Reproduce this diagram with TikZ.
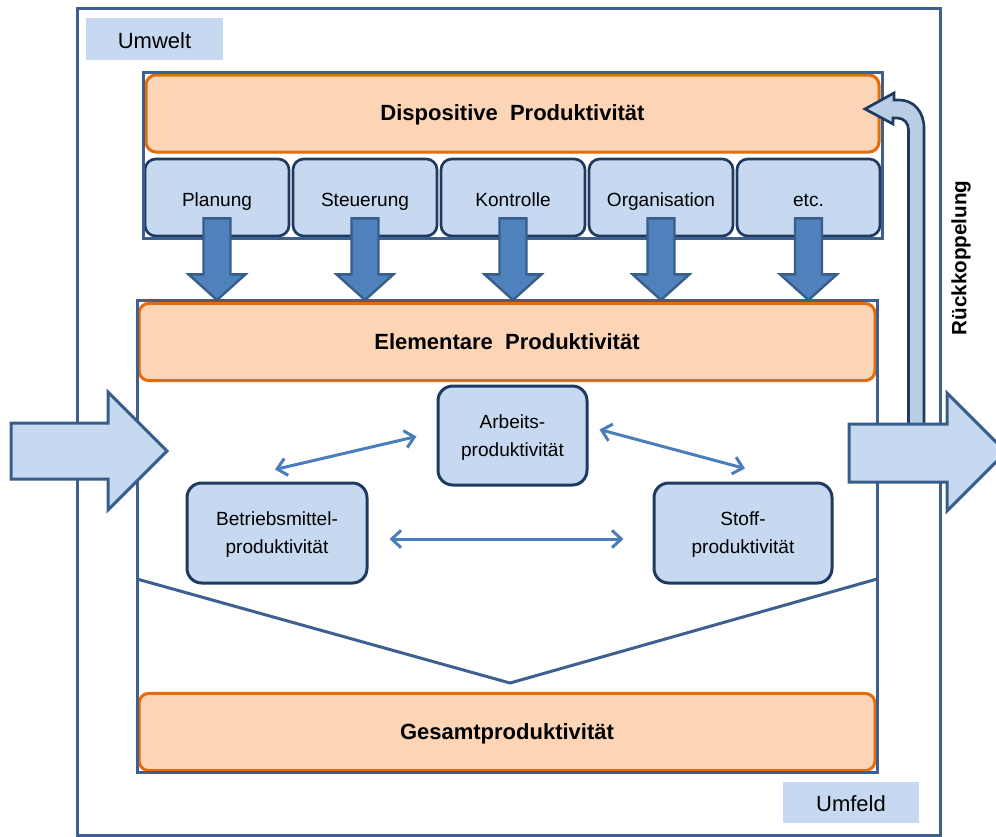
\documentclass[tikz,border=0pt]{standalone}
\usepackage{fontspec}
\setmainfont{Liberation Sans}
\usetikzlibrary{calc,arrows.meta}

\definecolor{framec}{HTML}{3D6090}
\definecolor{orfill}{HTML}{FBD5B5}
\definecolor{orline}{HTML}{E46C0A}
\definecolor{lbfill}{HTML}{C6D9F1}
\definecolor{dkline}{HTML}{1F3A60}
\definecolor{arrfill}{HTML}{4F81BD}
\definecolor{arrline}{HTML}{385D8A}
\definecolor{fbfill}{HTML}{B9CDE5}
\definecolor{linkc}{HTML}{4A7EBB}

\begin{document}
\begin{tikzpicture}[x=0.75pt,y=-0.75pt,
  frame/.style={draw=framec,line width=2.25pt},
  tag/.style={fill=lbfill,inner sep=0pt,minimum height=31pt,minimum width=102.5pt,
    text height=13.5pt,text depth=0pt,font=\fontsize{16.5}{20}\selectfont},
  layer/.style={fill=orfill,draw=orline,line width=2.25pt,rounded corners=7.5pt,
    inner sep=0pt,minimum width=552pt,minimum height=58pt,
    text height=11.2pt,text depth=0pt,
    font=\bfseries\fontsize{16.5}{20}\selectfont},
  task/.style={fill=lbfill,draw=dkline,line width=2pt,rounded corners=8pt,
    inner sep=0pt,minimum width=108pt,minimum height=57.75pt,
    text height=14.2pt,text depth=0pt,font=\fontsize{14.3}{17}\selectfont},
  factor/.style={fill=lbfill,draw=dkline,line width=2.25pt,rounded corners=11pt,
    inner sep=0pt,minimum height=75pt,align=center,text depth=-2.2pt,
    font=\fontsize{14.3}{21}\selectfont},
  link/.style={draw=linkc,line width=2.25pt,
    {Straight Barb[length=7pt,width=13pt]}-{Straight Barb[length=7pt,width=13pt]}},
  down/.style={fill=arrfill,draw=arrline,line width=1.8pt,line join=miter},
  block/.style={fill=lbfill,draw=arrline,line width=2.25pt,line join=miter},
  feedback/.style={fill=fbfill,draw=dkline,line width=2pt,line join=miter},
]
\useasboundingbox (0,0) rectangle (996,836);
\clip (0,0) rectangle (996,836);

% environment frame and its labels
\draw[frame] (77,8) rectangle (940,835);
\node[tag] (umwelt) at (154.5,39) {Umwelt};
\node[tag] (umfeld) at (851,802.5) {Umfeld};

% dispositive level
\fill[white] (143,72) rectangle (882,238);
\node[layer,minimum width=549.75pt,minimum height=57.75pt] (disp) at (512.5,113.5)
  {Dispositive\ \ Produktivität};
\node[task] (plan)  at (217,197.5) {Planung};
\node[task] (steu)  at (365,197.5) {Steuerung};
\node[task] (kontr) at (513,197.5) {Kontrolle};
\node[task] (org)   at (661,197.5) {Organisation};
\node[task,minimum width=107.25pt] (etc) at (808.5,197.5) {etc.};
\draw[frame] (143,72) rectangle (882,238);

% elementary level
\node[layer] (elem) at (507,342) {Elementare\ \ Produktivität};
\node[layer] (gesamt) at (507,732) {Gesamtproduktivität};
\draw[frame] (137,300) rectangle (877,772);
\coordinate (vl) at (137,579);
\coordinate (vb) at (510,683);
\coordinate (vr) at (877,579);
\draw[frame,line join=miter] (vl) -- (vb) -- (vr);

% productivity factors
\node[factor,minimum width=111.75pt,minimum height=74.25pt] (arb) at (512.5,435.5)
  {Arbeits-\\produktivität};
\node[factor,minimum width=135pt] (betr) at (277,533) {Betriebsmittel-\\produktivität};
\node[factor,minimum width=133.5pt] (stoff) at (743,533) {Stoff-\\produktivität};

\coordinate (ab1) at ($(arb.west)+(-20,1)$);
\coordinate (ab2) at ($(betr.north)+(-2,-12)$);
\coordinate (as1) at ($(arb.east)+(11,-6)$);
\coordinate (as2) at ($(stoff.north)+(2,-13)$);
\coordinate (bs1) at ($(betr.east)+(21,6)$);
\coordinate (bs2) at ($(stoff.west)+(-29,6)$);
\draw[link] (ab1) -- (ab2);
\draw[link] (as1) -- (as2);
\draw[link] (bs1) -- (bs2);

% block arrows from the dispositive tasks down to the elementary level
\coordinate (elemtop) at (0,300);
\foreach \t in {plan,steu,kontr,org,etc}{
  \draw[down] ($(\t.south)+(-13.5,-19)$) -- ++(27,0) -- ++(0,56) -- ++(15,0)
    -- (\t.south |- elemtop) -- ($(\t.south)+(-28.5,37)$) -- ++(15,0) -- cycle;
}

% input arrow
\draw[block] (11,423) -- (108,423) -- (108,392) -- (167,451) -- (108,510)
  -- (108,479) -- (11,479) -- cycle;

% feedback arrow back to the dispositive level
\draw[feedback] (908.5,430) -- (908.5,130)
  .. controls (908.5,123) and (904,118) .. (897,118)
  -- (893,118) -- (893,124) -- (865,109) -- (894,93) -- (894,100)
  -- (899,100) .. controls (914,100) and (924,112) .. (924,128)
  -- (924,430) -- cycle;
\node[rotate=90,font=\bfseries\fontsize{15.5}{18}\selectfont] (rueck) at (961,258) {Rückkoppelung};

% output arrow
\draw[block] (849,424) -- (947,424) -- (947,393) -- (1006,452) -- (947,511)
  -- (947,482) -- (849,482) -- cycle;
\end{tikzpicture}
\end{document}
